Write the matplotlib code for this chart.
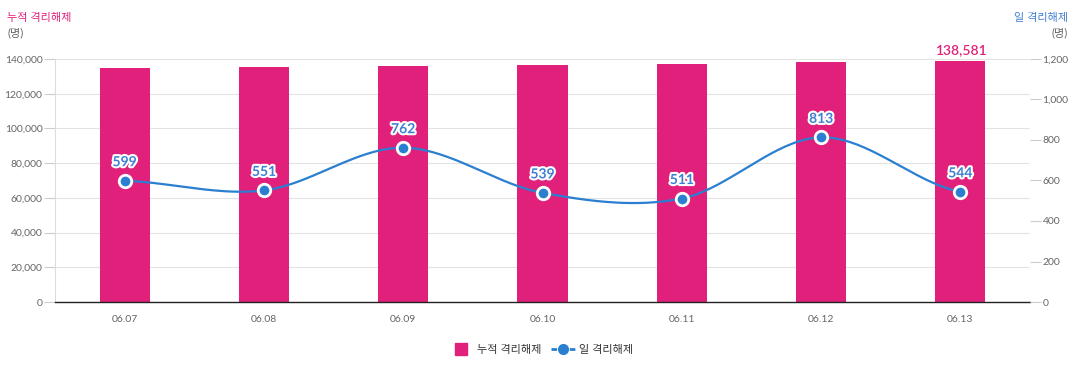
import matplotlib
matplotlib.use("Agg")
import matplotlib.pyplot as plt
import matplotlib.patheffects as pe
from matplotlib.lines import Line2D
import numpy as np

plt.rcParams['font.family'] = ['Lato', 'Noto Sans CJK KR', 'DejaVu Sans']

dates = ["06.07", "06.08", "06.09", "06.10", "06.11", "06.12", "06.13"]
cumulative = [134861, 135412, 136174, 136713, 137224, 138037, 138581]
daily = [599, 551, 762, 539, 511, 813, 544]
left_ticks = [0, 20000, 40000, 60000, 80000, 100000, 120000, 140000]
right_ticks = [0, 200, 400, 600, 800, 1000, 1200]

PINK = "#E0207A"
BLUE = "#2B7FD0"
LBLUE = "#3F7FD0"
GRAY = "#666666"

fig = plt.figure(figsize=(10.82, 3.72), dpi=100)
ax = fig.add_axes([55/1082, 1-302/372, (1030-55)/1082, (302-59)/372])
ax2 = ax.twinx()

x = np.arange(len(dates))
ax.bar(x, cumulative, width=0.36, color=PINK, zorder=2)
ax.set_xlim(-0.5, len(dates)-0.5)
ax.set_ylim(0, 140000)
ax.set_yticks(left_ticks)
ax.set_yticklabels([f"{v:,}" for v in left_ticks])
ax.set_xticks(x)
ax.set_xticklabels(dates)
ax.grid(axis='y', color='#e3e3e3', linewidth=0.8, zorder=0)
ax.set_axisbelow(True)
for s in ['top', 'right']:
    ax.spines[s].set_visible(False)
ax.spines['left'].set_color('#dddddd')
ax.spines['bottom'].set_color('#222222')
ax.spines['bottom'].set_linewidth(1.0)
ax.tick_params(axis='y', length=8, color='#cccccc', labelsize=7.5, labelcolor=GRAY, pad=1)
ax.tick_params(axis='x', length=0, labelsize=7.5, labelcolor=GRAY, pad=9)

ax2.set_ylim(0, 1200)
ax2.set_yticks(right_ticks)
ax2.set_yticklabels([f"{v:,}" for v in right_ticks])
for s in ['top', 'right', 'left', 'bottom']:
    ax2.spines[s].set_visible(False)
ax2.tick_params(axis='y', length=8, color='#cccccc', labelsize=7.5, labelcolor=GRAY, pad=1)

# Catmull-Rom smoothing for the drawn line
xs = x.astype(float)
ys = np.array(daily, dtype=float)
px = np.concatenate([[2*xs[0]-xs[1]], xs, [2*xs[-1]-xs[-2]]])
py = np.concatenate([[ys[0]], ys, [ys[-1]]])
cx, cy = [], []
t = np.linspace(0, 1, 40)
for i in range(1, len(px)-2):
    p0, p1, p2, p3 = [np.array([px[j], py[j]]) for j in range(i-1, i+3)]
    tt = t[:, None]
    pts = 0.5*((2*p1) + (-p0+p2)*tt + (2*p0-5*p1+4*p2-p3)*tt**2 + (-p0+3*p1-3*p2+p3)*tt**3)
    cx.extend(pts[:, 0]); cy.extend(pts[:, 1])
ax2.plot(cx, cy, color=BLUE, linewidth=1.6, zorder=3)
ax2.plot(xs, ys, 'o', color=BLUE, markersize=9, markeredgecolor='white', markeredgewidth=2, zorder=4)

for xi, v in zip(xs, daily):
    ax2.annotate(f"{v}", (xi, v), xytext=(0, 9), textcoords='offset points', ha='center', va='bottom',
                 fontsize=10, fontweight='bold', color=LBLUE,
                 path_effects=[pe.withStroke(linewidth=3, foreground='white')], zorder=5)

ax.annotate(f"{cumulative[-1]:,}", (xs[-1], cumulative[-1]), xytext=(0, 4), textcoords='offset points',
            ha='center', va='bottom', fontsize=10, fontweight='semibold', color=PINK)

fig.text(7/1082, 1-18/372, "누적 격리해제", color=PINK, fontsize=8, va='center', ha='left')
fig.text(7/1082, 1-33/372, "(명)", color=GRAY, fontsize=8, va='center', ha='left')
fig.text(1068/1082, 1-18/372, "일 격리해제", color=LBLUE, fontsize=8, va='center', ha='right')
fig.text(1068/1082, 1-33/372, "(명)", color=GRAY, fontsize=8, va='center', ha='right')

handles = [Line2D([0], [0], linestyle='none', marker='s', markersize=9, markerfacecolor=PINK,
                  markeredgecolor=PINK, label="누적 격리해제"),
           Line2D([0], [0], color=BLUE, linestyle=(0, (2.0, 1.3)), linewidth=2.0, marker='o', markersize=7,
                  markerfacecolor=BLUE, markeredgecolor=BLUE, label="일 격리해제")]
fig.legend(handles=handles, loc='center', bbox_to_anchor=(541/1082, 1-350/372), ncol=2, frameon=False,
           fontsize=8, handlelength=2.2, handleheight=1.0, columnspacing=0.8, handletextpad=0.4,
           labelcolor='#333333')

fig.savefig("out.png", dpi=100)
